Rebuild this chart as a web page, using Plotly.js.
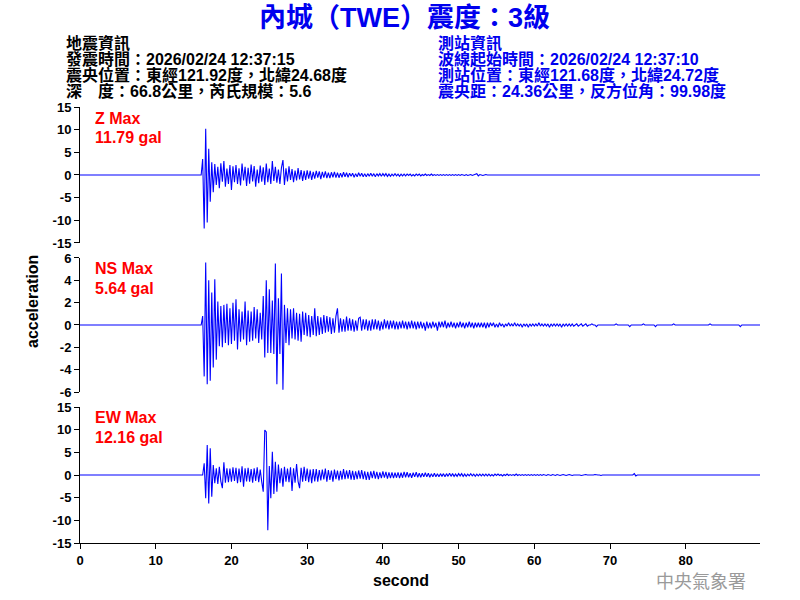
<!DOCTYPE html>
<html>
<head>
<meta charset="utf-8">
<script src="https://cdn.plot.ly/plotly-3.0.1.min.js"></script>
<style>html,body{margin:0;padding:0;background:#fff;}</style>
</head>
<body>
<div id="chart" style="width:800px;height:600px;"></div>
<script>
// ---------- DATA ----------
const stationTitle = "內城（TWE）震度：3級";
const quakeInfo = ["地震資訊", "發震時間：2026/02/24 12:37:15", "震央位置：東經121.92度，北緯24.68度", "深　度：66.8公里，芮氏規模：5.6"];
const stationInfo = ["測站資訊", "波線起始時間：2026/02/24 12:37:10", "測站位置：東經121.68度，北緯24.72度", "震央距：24.36公里，反方位角：99.98度"];
const channelNames = ["Z", "NS", "EW"];
const maxGal = ["11.79", "5.64", "12.16"];
const xTickVals = [0, 10, 20, 30, 40, 50, 60, 70, 80];
const zTickVals = [-15, -10, -5, 0, 5, 10, 15];
const zTickText = ["-15", "-10", "-5", "0", "5", "10", "15"];
const nsTickVals = [-6, -4, -2, 0, 2, 4, 6];
const nsTickText = ["-6", "-4", "-2", "0", "2", "4", "6"];
const ewTickVals = [-15, -10, -5, 0, 5, 10, 15];
const ewTickText = ["-15", "-10", "-5", "0", "5", "10", "15"];
const recordStart = 0;      // s
const eventStart = 16.0;    // s, first sample of the listed values
const sampleStep = 0.2;     // s
const recordEnd = 89.8;     // s

// Z component (gal), one row per second (5 samples)
const zValues = [
  0, 3.5, -11.8, 10.2, -10.5,
  5.8, -5.9, 2.8, -3.8, 2.4,
  -2.2, 1.8, -2.9, 2.6, -1.5,
  3.1, -2.6, 1.4, -2.0, 2.2,
  -3.3, 1.9, -1.6, 2.2, -2.0,
  1.5, -2.3, 2.5, -1.2, 1.8,
  -2.4, 1.6, -1.9, 2.3, -1.4,
  2.0, -2.6, 1.2, -1.8, 2.1,
  -1.5, 1.7, -2.2, 2.5, -1.6,
  1.4, -2.0, 3.1, -1.3, 1.8,
  -1.7, 1.2, -2.0, 1.6, 3.3,
  -2.2, 1.5, -1.4, 1.9, -1.1,
  1.3, -1.6, 1.0, -1.2, 1.5,
  -1.0, 1.1, -1.3, 0.9, -1.1,
  1.0, -0.8, 0.9, -1.1, 0.7,
  -0.8, 0.9, -0.6, 0.8, -0.9,
  0.7, -0.6, 0.8, -0.7, 0.5,
  -0.7, 0.6, -0.5, 0.7, -0.6,
  0.5, -0.6, 0.4, -0.5, 0.6,
  -0.4, 0.5, -0.5, 0.4, -0.3,
  0.4, -0.5, 0.3, -0.4, 0.5,
  -0.3, 0.4, -0.4, 0.3, -0.4,
  0.3, -0.3, 0.4, -0.3, 0.3,
  -0.4, 0.3, -0.2, 0.3, -0.3,
  0.3, -0.2, 0.3, -0.3, 0.2,
  -0.3, 0.2, -0.2, 0.3, -0.2,
  0.2, -0.3, 0.2, -0.2, 0.2,
  -0.2, 0.2, -0.1, 0.2, -0.2,
  0.1, -0.2, 0.2, -0.1, 0.2,
  -0.2, 0.1, -0.1, 0.2, -0.1,
  0.1, -0.1, 0.2, -0.1, 0.1,
  -0.1, 0.1, -0.1, 0.1, -0.1,
  0.1, -0.1, 0.1, -0.1, 0.1,
  -0.1, 0.1, -0.1, 0.1, -0.1,
  0.1, -0.1, 0.1, 0, -0.1,
  0.1, -0.1, 0, 0.1, -0.1,
  0, 0.1, 0.3, -0.2, 0.1,
  0, -0.1, 0, 0.1, 0
];

// NS component (gal)
const nsValues = [
  0, 0.8, -4.6, 5.6, -5.3,
  4.0, -5.0, 2.9, -3.8, 4.1,
  -3.1, 2.1, -1.9, 1.7, -2.0,
  1.8, -1.6, 1.9, -1.8, 1.5,
  -1.7, 2.0, -1.4, 2.3, -2.2,
  1.4, -1.5, 1.2, -1.3, 2.1,
  -1.8, 1.3, -1.5, 1.2, -1.4,
  1.6, -1.2, 1.4, -1.6, 1.1,
  -1.3, 2.6, -2.9, 4.0, -2.5,
  3.2, -2.5, 2.2, -2.6, 5.5,
  -5.3, 2.4, -2.6, 4.6, -5.8,
  1.8, -1.6, 1.5, -1.8, 1.4,
  -1.2, 1.5, -1.3, 1.1, -1.4,
  1.0, -1.5, 1.2, -0.9, 1.1,
  -1.0, 0.9, -1.1, 0.8, -0.9,
  1.5, -1.0, 0.8, -0.9, 0.7,
  -0.8, 0.9, -0.7, 0.8, -0.6,
  0.7, -0.8, 0.6, -0.7, 0.8,
  1.5, -0.7, 0.6, -0.6, 0.5,
  -0.6, 0.75, -0.5, 0.6, -0.5,
  0.5, -0.6, 0.4, -0.5, 0.6,
  0.7, -0.5, 0.5, -0.4, 0.5,
  -0.5, 0.4, -0.5, 0.5, -0.4,
  0.5, -0.4, 0.4, -0.5, 0.3,
  -0.4, 0.5, -0.3, 0.4, -0.4,
  0.4, -0.3, 0.4, -0.4, 0.3,
  -0.4, 0.3, -0.3, 0.4, -0.3,
  0.3, -0.4, 0.3, -0.3, 0.4,
  -0.3, 0.3, -0.4, 0.3, -0.3,
  0.3, -0.3, 0.2, -0.5, 0.3,
  -0.3, 0.2, -0.3, 0.3, -0.2,
  0.2, -0.5, 0.3, -0.2, 0.3,
  -0.2, 0.4, -0.3, 0.2, -0.2,
  0.3, -0.2, 0.2, -0.3, 0.2,
  -0.2, 0.3, -0.2, 0.2, -0.3,
  0.2, -0.2, 0.3, -0.2, 0.2,
  -0.3, 0.2, -0.2, 0.2, -0.2,
  0.2, -0.2, 0.2, -0.3, 0.2,
  -0.2, 0.2, -0.1, 0.2, -0.2,
  0.1, -0.2, 0.2, -0.1, 0.1,
  -0.2, 0.1, -0.1, 0.2, -0.1,
  0.1, -0.1, 0.2, -0.1, 0.1,
  -0.1, 0.1, -0.2, 0.1, -0.1,
  0.1, -0.2, 0.1, -0.1, 0.1,
  -0.1, 0.1, -0.1, 0.2, -0.1,
  0.1, -0.1, 0.1, -0.1, 0.1,
  -0.2, 0.1, -0.1, 0.1, -0.1,
  0.1, -0.1, 0.1, -0.2, 0.1,
  -0.1, 0.1, -0.1, 0.1, -0.1,
  0.1, -0.1, 0, 0.1, -0.1,
  0, 0.1, -0.1, 0, 0.1,
  -0.1, 0, 0, 0.1, 0,
  0, -0.15, 0, 0, 0,
  0, 0, 0, 0, 0,
  0, 0, 0, 0, 0.1,
  0, 0, 0, 0, 0,
  0, 0, 0, -0.15, 0,
  0, 0, 0, 0, 0,
  0, 0, 0.1, 0, 0,
  0, 0, 0, 0, 0,
  -0.15, 0, 0, 0, 0,
  0, 0, 0, 0, 0,
  0, 0, 0.1, 0, 0,
  0, 0, 0, 0, 0,
  0, 0, 0, 0, 0,
  0, 0, 0, 0, 0,
  0, 0, 0, 0, 0,
  0, 0.1, 0, 0, 0,
  0, 0, 0, 0, 0,
  0, 0, 0, 0, 0,
  0, 0, 0, 0, 0,
  0, -0.15, 0, 0, 0,
  0
];

// EW component (gal)
const ewValues = [
  0, 0, 2.6, -5.1, 6.6,
  -6.3, 5.9, -4.8, 2.2, -1.8,
  1.5, -2.0, 1.8, -1.4, -2.9,
  2.8, -1.7, 1.5, -1.6, 1.4,
  -1.5, 1.7, -1.3, 1.6, -1.8,
  1.4, -1.6, 1.9, -2.6, 1.5,
  -1.4, 1.6, -1.5, 1.3, -1.7,
  1.5, -1.3, 1.7, -1.6, 1.2,
  -1.5, -3.7, 9.9, 9.5, -12.2,
  2.0, -5.1, 5.1, -4.2, 2.9,
  -3.7, 2.3, -1.8, 1.5, -2.6,
  1.8, -1.5, 1.4, -1.6, 1.7,
  -3.5, 1.5, -1.7, 2.4, -1.4,
  -2.9, 1.6, -1.5, 1.8, -1.3,
  1.4, -1.6, 1.2, -1.8, 1.3,
  -1.4, 1.3, -1.5, 1.1, -1.2,
  1.2, -1.0, 1.4, -1.5, 1.1,
  -1.1, 1.0, -1.5, 1.2, -0.9,
  1.0, -1.2, 0.9, -1.0, 1.3,
  -0.9, 1.0, -0.8, 1.1, -1.0,
  0.9, -1.1, 0.8, -0.9, 1.0,
  -0.8, 1.1, -0.9, 0.8, -1.1,
  0.7, -1.1, 0.8, -0.7, 0.9,
  -0.8, 0.7, -0.9, 0.6, -0.7,
  0.8, -0.6, 0.7, -0.8, 0.6,
  -0.7, 0.6, -0.7, 0.5, -0.6,
  0.6, -0.7, 0.5, -0.6, 0.7,
  -0.5, 0.6, -0.5, 0.4, -0.6,
  0.5, -0.4, 0.6, -0.5, 0.4,
  -0.5, 0.4, -0.4, 0.5, -0.4,
  0.4, -0.5, 0.3, -0.4, 0.4,
  -0.4, 0.3, -0.4, 0.3, -0.3,
  0.3, -0.4, 0.3, -0.3, 0.4,
  -0.3, 0.3, -0.3, 0.2, -0.3,
  0.3, -0.2, 0.3, -0.3, 0.2,
  -0.3, 0.2, -0.2, 0.3, -0.2,
  0.2, -0.3, 0.2, -0.2, 0.2,
  -0.2, 0.2, -0.2, 0.2, -0.2,
  0.2, -0.2, 0.1, -0.2, 0.2,
  -0.1, 0.2, -0.1, 0.1, -0.2,
  0.1, -0.1, 0.2, -0.1, 0.1,
  -0.1, 0.1, -0.1, 0.2, -0.1,
  0.1, -0.1, 0.1, -0.1, 0.1,
  -0.1, 0.1, -0.1, 0.1, -0.1,
  0.1, -0.1, 0.1, -0.1, 0.1,
  -0.1, 0.1, 0, -0.1, 0.1,
  0, -0.1, 0.1, 0, -0.1,
  0.1, 0, -0.1, 0, 0.1,
  0, -0.1, 0, 0.1, 0,
  -0.1, 0, 0, 0.1, 0,
  0, -0.1, 0, 0, 0.1,
  0, 0, -0.1, 0, 0,
  0.1, 0, 0, 0, -0.1,
  0, 0, 0, 0, 0,
  0, 0, 0.1, 0, 0,
  0, 0, 0, 0, 0,
  0, 0, 0, 0, 0,
  0, 0.3, -0.2, 0, 0
];

// ---------- BUILD ----------
function series(values) {
  const t = [recordStart], v = [0];
  values.forEach((val, i) => { t.push(+(eventStart + i * sampleStep).toFixed(2)); v.push(val); });
  t.push(recordEnd); v.push(0);
  return { t, v };
}
const zS = series(zValues), nsS = series(nsValues), ewS = series(ewValues);
const waveColor = "#0000ff";
const waveLine = { color: waveColor, width: 1.1 };
const traces = [
  { x: zS.t, y: zS.v, xaxis: "x", yaxis: "y", type: "scatter", mode: "lines", line: waveLine, hoverinfo: "skip" },
  { x: nsS.t, y: nsS.v, xaxis: "x", yaxis: "y2", type: "scatter", mode: "lines", line: waveLine, hoverinfo: "skip" },
  { x: ewS.t, y: ewS.v, xaxis: "x", yaxis: "y3", type: "scatter", mode: "lines", line: waveLine, hoverinfo: "skip" }
];

const FONT = "Liberation Sans, Arial, Noto Sans CJK TC, sans-serif";
const tickFont = { family: FONT, size: 13, color: "#000", weight: "bold" };
function yAxis(domain, range, vals, text) {
  return {
    domain: domain, range: range, anchor: "x",
    tickmode: "array", tickvals: vals, ticktext: text,
    ticks: "outside", ticklen: 5, tickwidth: 1, tickcolor: "#000",
    showline: true, linecolor: "#000", linewidth: 1,
    showgrid: false, zeroline: false, tickfont: tickFont, fixedrange: true
  };
}

// plot area in pixels: left 80, right 760, top 107, bottom 543
const PL = 80, PW = 680, PB = 543, PH = 436;
const px = v => (v - PL) / PW;
const py = v => (PB - v) / PH;
const ann = [];
function addText(text, x, y, opts) {
  ann.push(Object.assign({
    text: text, xref: "paper", yref: "paper", x: px(x), y: py(y),
    showarrow: false, xanchor: "left", yanchor: "middle", borderpad: 0
  }, opts));
}
addText(stationTitle, 404, 18, { xanchor: "center", font: { family: FONT, size: 27, color: "#0000ee", weight: "bold" } });
const infoRows = [43, 59, 75, 91];
quakeInfo.forEach((s, i) => addText(s, 65, infoRows[i], { font: { family: FONT, size: 16, color: "#000", weight: "bold" } }));
stationInfo.forEach((s, i) => addText(s, 437, infoRows[i], { font: { family: FONT, size: 16, color: "#0000ee", weight: "bold" } }));
const maxRows = [[118, 137], [268, 288], [417, 437]];
channelNames.forEach((c, i) => {
  addText(c + " Max", 94, maxRows[i][0], { font: { family: FONT, size: 16, color: "#ff0000", weight: "bold" } });
  addText(maxGal[i] + " gal", 94, maxRows[i][1], { font: { family: FONT, size: 16, color: "#ff0000", weight: "bold" } });
});
addText("acceleration", 32, 302, { xanchor: "center", textangle: -90, font: { family: FONT, size: 16, color: "#000", weight: "bold" } });
addText("second", 401, 580, { xanchor: "center", font: { family: FONT, size: 16, color: "#000", weight: "bold" } });
addText("中央氣象署", 701, 580, { xanchor: "center", font: { family: "Noto Sans CJK TC, sans-serif", size: 18, color: "#9a9a9a", weight: "normal" } });

const layout = {
  width: 800, height: 600,
  margin: { l: 80, r: 40, t: 107, b: 57, pad: 0 },
  paper_bgcolor: "#fff", plot_bgcolor: "#fff",
  showlegend: false,
  xaxis: {
    range: [recordStart, recordEnd], anchor: "y3",
    tickmode: "array", tickvals: xTickVals,
    ticks: "outside", ticklen: 5, tickwidth: 1, tickcolor: "#000",
    showline: true, linecolor: "#000", linewidth: 1,
    showgrid: false, zeroline: false, tickfont: tickFont, fixedrange: true
  },
  yaxis: yAxis([0.6881, 1], [-15, 15], zTickVals, zTickText),
  yaxis2: yAxis([0.3463, 0.6537], [-6, 6], nsTickVals, nsTickText),
  yaxis3: yAxis([0, 0.3119], [-15, 15], ewTickVals, ewTickText),
  annotations: ann
};
Plotly.newPlot("chart", traces, layout, { displayModeBar: false, staticPlot: true });
</script>
</body>
</html>
